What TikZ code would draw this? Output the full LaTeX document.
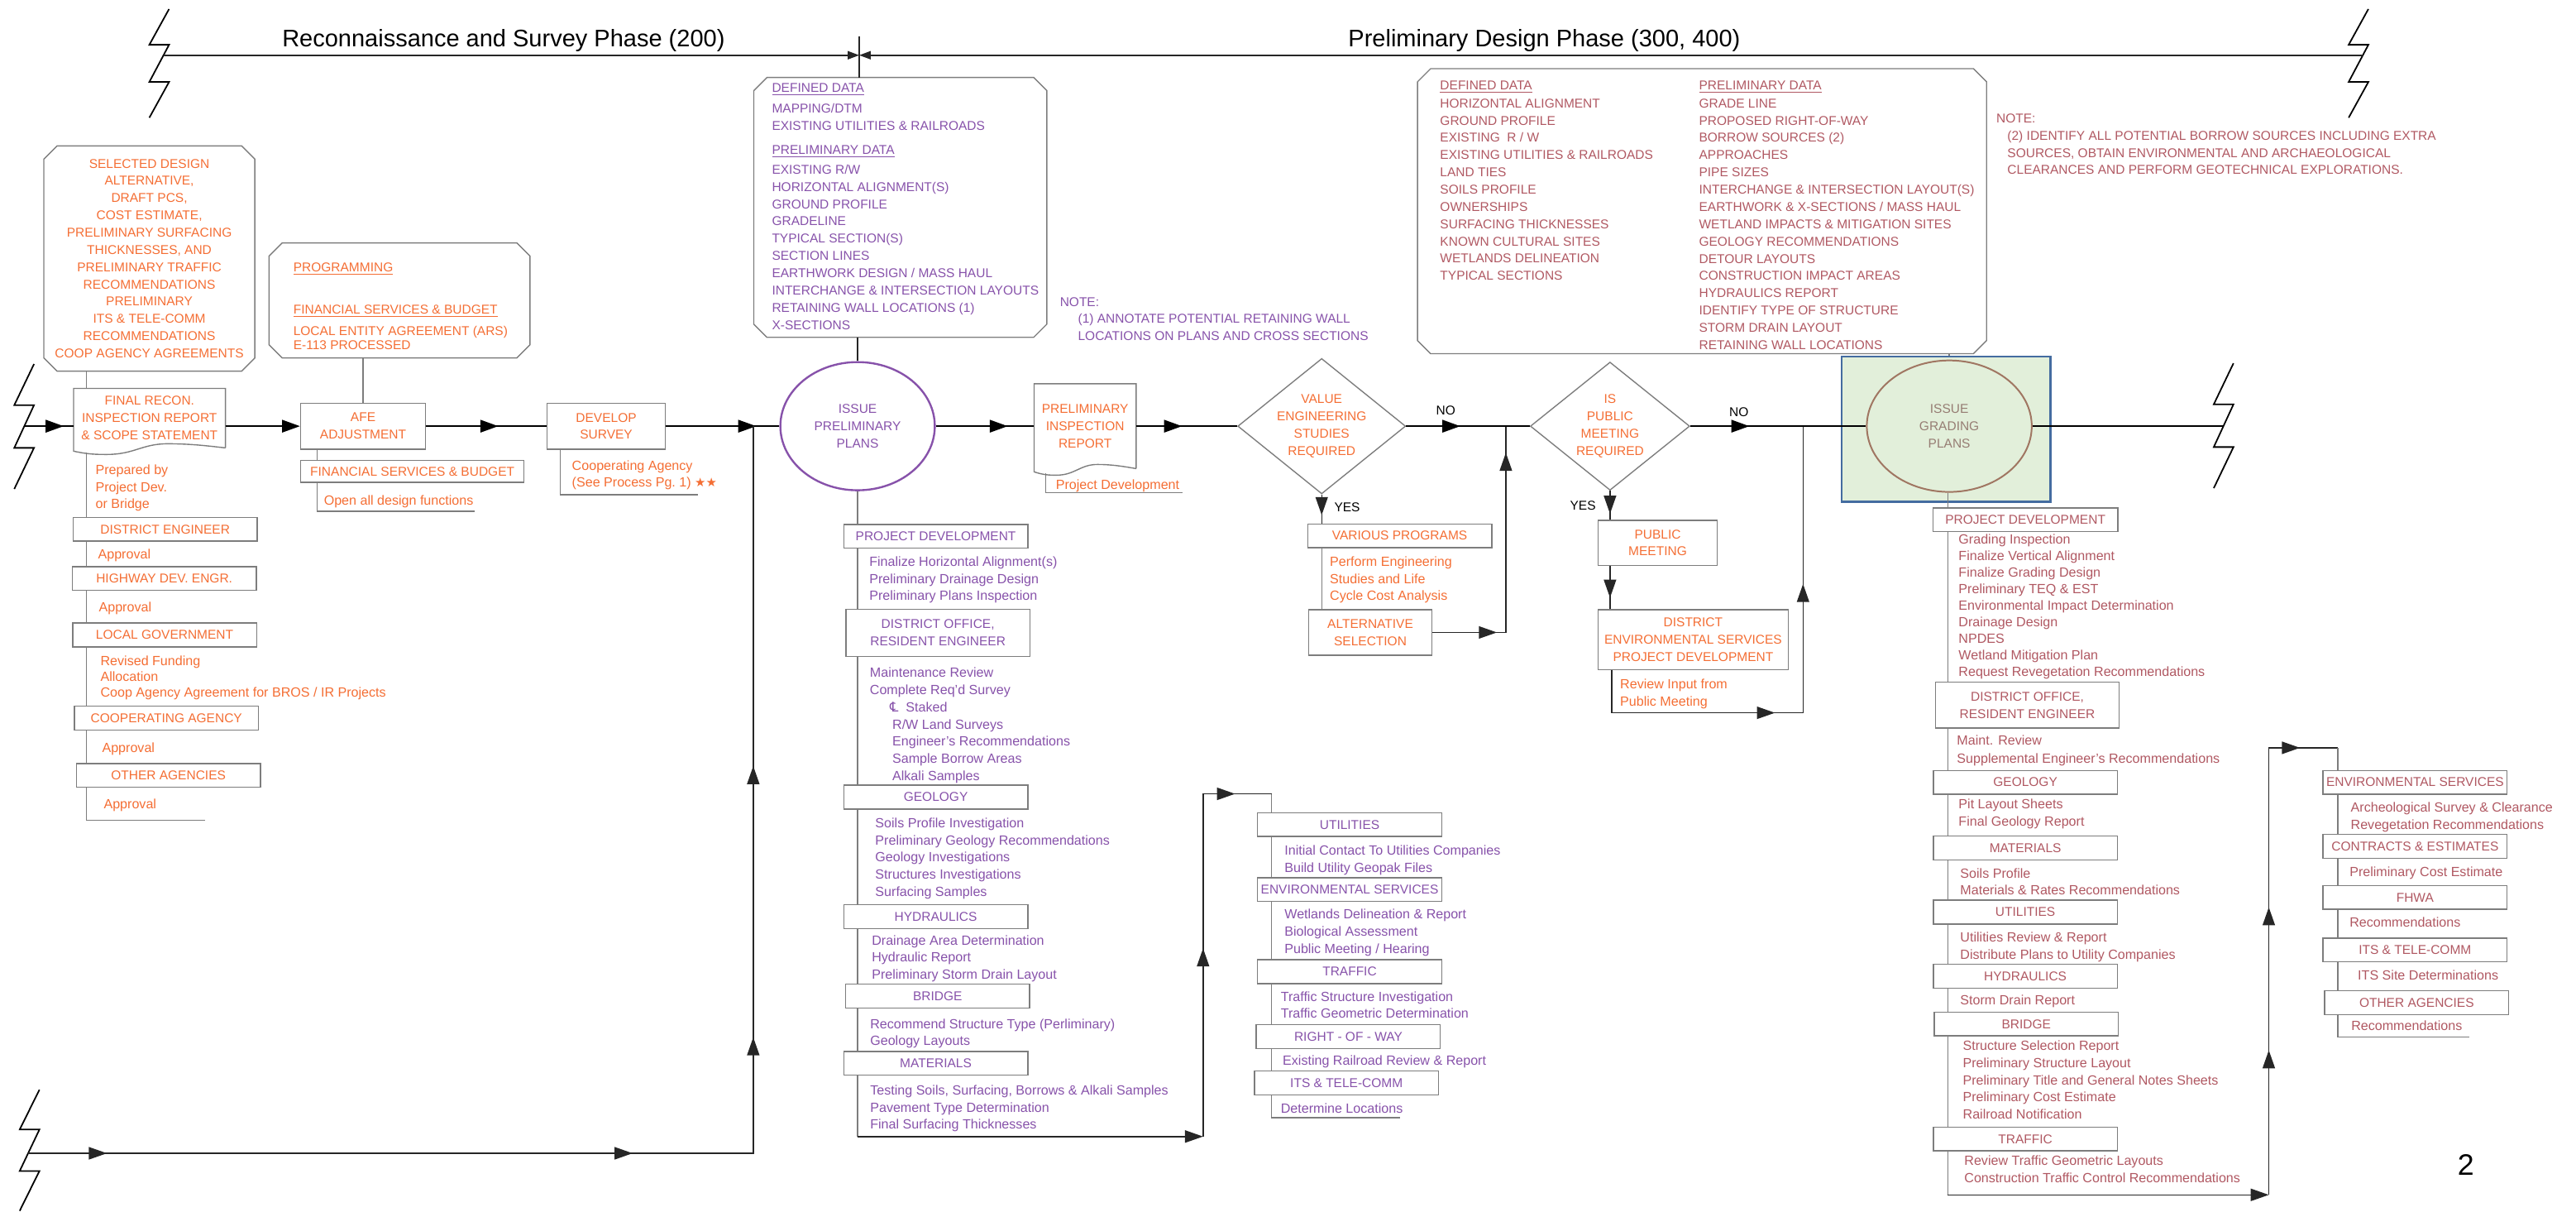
\documentclass[tikz,border=0pt]{standalone}
\usepackage{fontspec}
\setmainfont{Liberation Sans}
\newfontfamily\symfont{DejaVu Sans}
\usetikzlibrary{arrows.meta,shapes.geometric,decorations.markings,calc}

\definecolor{orangetxt}{RGB}{244,110,52}
\definecolor{purpletxt}{RGB}{135,82,170}
\definecolor{maroontxt}{RGB}{176,88,98}
\definecolor{boxgray}{RGB}{125,125,125}
\definecolor{gradefill}{RGB}{226,239,218}
\definecolor{gradeblue}{RGB}{68,108,160}
\definecolor{gradering}{RGB}{160,118,98}
\definecolor{gradetxt}{RGB}{150,125,115}

\newcommand{\capfont}{\fontsize{7.8}{10.5}\selectfont}
\newcommand{\listfont}{\fontsize{8.1}{10.4}\selectfont}
\newcommand{\docoutline}[1]{%
  \draw[boxline] (#1.south east) -- (#1.north east) -- (#1.north west) -- ($(#1.south west)+(0,2)$)
    .. controls ($(#1.south west)!0.1!(#1.south east)+(0,4)$) and ($(#1.south west)!0.15!(#1.south east)+(0,4)$) .. ($(#1.south west)!0.22!(#1.south east)+(0,4)$)
    .. controls ($(#1.south west)!0.4!(#1.south east)+(0,4)$) and ($(#1.south west)!0.45!(#1.south east)+(0,-2.5)$) .. ($(#1.south west)!0.62!(#1.south east)+(0,-2.5)$)
    .. controls ($(#1.south west)!0.78!(#1.south east)+(0,-2.5)$) and ($(#1.south west)!0.9!(#1.south east)+(0,-1)$) .. (#1.south east);}
\newcommand{\chamferoutline}[1]{%
  \draw[boxline] ($(#1.north west)+(8,0)$) -- ($(#1.north east)+(-8,0)$) -- ($(#1.north east)+(0,8)$)
    -- ($(#1.south east)+(0,-8)$) -- ($(#1.south east)+(-8,0)$) -- ($(#1.south west)+(8,0)$)
    -- ($(#1.south west)+(0,-8)$) -- ($(#1.north west)+(0,8)$) -- cycle;}

\begin{document}
\begin{tikzpicture}[x=1pt,y=-1pt,
mainline/.style={line width=1.3pt},
flowline/.style={line width=0.75pt,draw=black!85},
listline/.style={line width=0.7pt,draw=boxgray},
boxline/.style={line width=0.7pt,draw=boxgray},
endtip/.style={-{Triangle[length=11pt,width=7.5pt]}},
arrowat/.style={postaction={decorate,decoration={markings,mark=at position #1 with {\arrow{Triangle[length=11pt,width=7.5pt]}}}}},
tbox/.style={rectangle,draw=boxgray,line width=0.7pt,fill=white,inner sep=0pt,align=center,font=\capfont,minimum width=112pt,minimum height=14.5pt},
chbox/.style={rectangle,inner sep=0pt,align=center,font=\capfont},
docnode/.style={rectangle,inner sep=0pt,align=center,font=\capfont},
dmd/.style={diamond,aspect=1.24,draw=boxgray,line width=0.7pt,inner sep=0pt,minimum width=97pt,minimum height=78pt,align=center,font=\capfont},
ltext/.style={anchor=north west,align=left,inner sep=0pt,font=\listfont},
ctext/.style={anchor=north west,align=left,inner sep=0pt,font=\capfont},
lbl/.style={inner sep=0pt,font=\capfont},
breakzig/.pic={\draw[line width=0.9pt] (12,0) -- (0,25) -- (12,25) -- (0,51) -- (12,51) -- (0,76);}]

\useasboundingbox (0,0) rectangle (1568,737);

\pic[yscale=0.87] at (90.9,5.5) {breakzig};
\pic[yscale=0.87] at (1429.6,5.5) {breakzig};
\pic at (8.7,221.5) {breakzig};
\pic at (1347.5,221) {breakzig};
\pic[yscale=0.97] at (12,663) {breakzig};

\coordinate (hdrL) at (99.5,33.6);
\coordinate (hdrM) at (523,33.6);
\coordinate (hdrR) at (1438,33.6);
\coordinate (tickTop) at (523,22);
\draw[flowline,-{Triangle[length=7pt,width=5pt]}] (hdrL) -- (hdrM);
\draw[flowline,-{Triangle[length=7pt,width=5pt]}] (hdrR) -- (hdrM);
\node[font=\fontsize{14.6}{17}\selectfont,anchor=base] (phase1) at (306.5,28.5) {Reconnaissance and Survey Phase (200)};
\node[font=\fontsize{14.6}{17}\selectfont,anchor=base] (phase2) at (940,28.5) {Preliminary Design Phase (300, 400)};

\node[chbox,minimum width=128pt,minimum height=136.6pt,text=orangetxt] (selbox) at (90.9,157.3) {SELECTED DESIGN\\ALTERNATIVE,\\DRAFT PCS,\\COST ESTIMATE,\\PRELIMINARY SURFACING\\THICKNESSES, AND\\PRELIMINARY TRAFFIC\\RECOMMENDATIONS\\PRELIMINARY\\ITS \& TELE-COMM\\RECOMMENDATIONS\\COOP AGENCY AGREEMENTS};
\chamferoutline{selbox}

\node[docnode,minimum width=92pt,minimum height=35.8pt,text=orangetxt] (recon) at (91,254.4) {FINAL RECON.\\INSPECTION REPORT\\\& SCOPE STATEMENT};
\docoutline{recon}

\coordinate (mainL) at (14.8,259.3);
\coordinate (spineA) at (52.7,499);
\coordinate (endA) at (125,499);
\draw[listline] (selbox.south -| spineA) -- (recon.north -| spineA);
\draw[listline] ($(recon.south -| spineA)+(0,3)$) -- (spineA) -- (endA);

\node[tbox,text=orangetxt] (deng) at (100.5,322) {DISTRICT ENGINEER};
\node[tbox,text=orangetxt] (hdev) at (100,352) {HIGHWAY DEV. ENGR.};
\node[tbox,text=orangetxt] (lgov) at (100.2,386.3) {LOCAL GOVERNMENT};
\node[tbox,text=orangetxt] (coop) at (101.3,437) {COOPERATING AGENCY};
\node[tbox,text=orangetxt] (oth) at (102.5,471.8) {OTHER AGENCIES};
\node[ltext,text=orangetxt] (prep) at (58,282.6) {Prepared by\\Project Dev.\\or Bridge};
\node[ltext,text=orangetxt] (appr1) at (59.5,334.1) {Approval};
\node[ltext,text=orangetxt] (appr2) at (60,366.1) {Approval};
\node[ltext,text=orangetxt] (fund) at (61,398.8) {Revised Funding\\[-0.7pt]Allocation\\[-0.7pt]Coop Agency Agreement for BROS / IR Projects};
\node[ltext,text=orangetxt] (appr3) at (62,451.7) {Approval};
\node[ltext,text=orangetxt] (appr4) at (63,486.1) {Approval};

\node[chbox,minimum width=158.4pt,minimum height=69.6pt] (prog) at (243.2,182.8) {};
\chamferoutline{prog}
\node[ctext,text=orangetxt] (prog1) at (178.4,159.5) {\underline{PROGRAMMING}};
\node[ctext,text=orangetxt] (prog2) at (178.4,185.3) {\underline{FINANCIAL SERVICES \& BUDGET}};
\node[ctext,text=orangetxt] (prog3) at (178.4,198.4) {LOCAL ENTITY AGREEMENT (ARS)\\[-2pt]E-113 PROCESSED};

\node[tbox,text=orangetxt,minimum width=76pt,minimum height=28pt] (afe) at (221,259.3) {AFE\\ADJUSTMENT};
\draw[listline] (prog.south -| afe.north) -- (afe.north);
\coordinate (spineF) at (193,311);
\coordinate (endF) at (289,311);
\draw[listline] (afe.south -| spineF) -- (spineF) -- (endF);
\node[tbox,text=orangetxt,minimum width=136pt,minimum height=13.5pt] (finsv) at (251,286.8) {FINANCIAL SERVICES \& BUDGET};
\node[ltext,text=orangetxt] (opend) at (197,301.1) {Open all design functions};

\node[tbox,text=orangetxt,minimum width=72pt,minimum height=28pt] (dev) at (369,259.3) {DEVELOP\\SURVEY};
\coordinate (spineD) at (341,301);
\coordinate (endD) at (425,301);
\draw[listline] (dev.south -| spineD) -- (spineD) -- (endD);
\node[ltext,text=orangetxt] (coopag) at (348,280.1) {Cooperating Agency\\[-0.4pt](See Process Pg.~1) {\symfont\fontsize{7.5}{8}\selectfont ★★}};

\node[ellipse,draw=purpletxt,line width=1.2pt,minimum width=94pt,minimum height=78pt,inner sep=0pt,align=center,font=\capfont,text=purpletxt] (prelim) at (522,259.3) {ISSUE\\PRELIMINARY\\PLANS};

\node[chbox,minimum width=178pt,minimum height=157.7pt] (defbox) at (548,126.2) {};
\chamferoutline{defbox}
\node[ctext,text=purpletxt] (def1) at (469.7,50.8) {\underline{DEFINED DATA}\\[1.7pt]MAPPING/DTM\\EXISTING UTILITIES \& RAILROADS};
\node[ctext,text=purpletxt] (def2) at (469.7,88.5) {\underline{PRELIMINARY DATA}\\[1.3pt]EXISTING R/W\\HORIZONTAL ALIGNMENT(S)\\GROUND PROFILE\\GRADELINE\\TYPICAL SECTION(S)\\SECTION LINES\\EARTHWORK DESIGN / MASS HAUL\\INTERCHANGE \& INTERSECTION LAYOUTS\\RETAINING WALL LOCATIONS (1)\\X-SECTIONS};
\draw[flowline] (tickTop) -- (tickTop |- defbox.north);
\draw[flowline] (defbox.south -| prelim.north) -- (prelim.north);
\node[ctext,text=purpletxt] (note1) at (645,180.8) {NOTE:};
\node[ctext,text=purpletxt] (note1b) at (656,190.9) {(1) ANNOTATE POTENTIAL RETAINING WALL\\LOCATIONS ON PLANS AND CROSS SECTIONS};

\coordinate (spineP) at (522,691.5);
\coordinate (jumpP) at (732.3,691.5);
\coordinate (jumpTop) at (732.3,483);
\coordinate (spineU) at (774,483);
\coordinate (spineUend) at (774,680);
\coordinate (endU) at (852,680);
\draw[listline] (prelim.south) -- (spineP);
\draw[flowline,endtip] (spineP) -- (jumpP);
\draw[flowline,arrowat=114.5pt,arrowat=228pt] (jumpP) -- (jumpTop) -- (spineU);
\draw[listline] (spineU) -- (spineUend) -- (endU);

\node[tbox,text=purpletxt] (pdev1) at (569.6,326.3) {PROJECT DEVELOPMENT};
\node[tbox,text=purpletxt,minimum height=28.8pt] (doff1) at (570.9,385) {DISTRICT OFFICE,\\RESIDENT ENGINEER};
\node[tbox,text=purpletxt] (geo1) at (569.6,485) {GEOLOGY};
\node[tbox,text=purpletxt] (hyd1) at (569.6,557.7) {HYDRAULICS};
\node[tbox,text=purpletxt] (brg1) at (570.7,606) {BRIDGE};
\node[tbox,text=purpletxt] (mat1) at (569.6,647) {MATERIALS};
\node[ltext,text=purpletxt] (pdev1t) at (529,338.5) {Finalize Horizontal Alignment(s)\\Preliminary Drainage Design\\Preliminary Plans Inspection};
\node[ltext,text=purpletxt] (doff1t) at (529.3,405.9) {Maintenance Review\\Complete Req’d Survey};
\node[ltext,text=purpletxt] (doff1s) at (541.5,427.1) {{\symfont ℄}\ \ Staked\\\hspace*{1.5pt}R/W Land Surveys\\\hspace*{1.5pt}Engineer’s Recommendations\\\hspace*{1.5pt}Sample Borrow Areas\\\hspace*{1.5pt}Alkali Samples};
\node[ltext,text=purpletxt] (geo1t) at (532.6,497.5) {Soils Profile Investigation\\Preliminary Geology Recommendations\\Geology Investigations\\Structures Investigations\\Surfacing Samples};
\node[ltext,text=purpletxt] (hyd1t) at (530.5,568.8) {Drainage Area Determination\\Hydraulic Report\\Preliminary Storm Drain Layout};
\node[ltext,text=purpletxt] (brg1t) at (529.5,619.7) {Recommend Structure Type (Perliminary)\\Geology Layouts};
\node[ltext,text=purpletxt] (mat1t) at (529.5,660.1) {Testing Soils, Surfacing, Borrows \& Alkali Samples\\Pavement Type Determination\\Final Surfacing Thicknesses};

\node[tbox,text=purpletxt] (ut4) at (821.5,501.7) {UTILITIES};
\node[tbox,text=purpletxt] (env4) at (821.5,541.3) {ENVIRONMENTAL SERVICES};
\node[tbox,text=purpletxt] (trf4) at (821.5,591.2) {TRAFFIC};
\node[tbox,text=purpletxt] (row4) at (820.7,630.8) {RIGHT - OF - WAY};
\node[tbox,text=purpletxt] (its4) at (819.6,659) {ITS \& TELE-COMM};
\node[ltext,text=purpletxt] (ut4t) at (781.7,514.3) {Initial Contact To Utilities Companies\\Build Utility Geopak Files};
\node[ltext,text=purpletxt] (env4t) at (781.7,553.1) {Wetlands Delineation \& Report\\Biological Assessment\\Public Meeting / Hearing};
\node[ltext,text=purpletxt] (trf4t) at (779.4,603.1) {Traffic Structure Investigation\\Traffic Geometric Determination};
\node[ltext,text=purpletxt] (row4t) at (780.6,641.8) {Existing Railroad Review \& Report};
\node[ltext,text=purpletxt] (its4t) at (779.4,671.1) {Determine Locations};

\node[docnode,minimum width=61.7pt,minimum height=51.2pt,text=orangetxt] (pir) at (660.5,259.3) {PRELIMINARY\\INSPECTION\\REPORT};
\docoutline{pir}
\coordinate (spineR) at (636.6,299.8);
\coordinate (endR) at (720,299.8);
\draw[listline] ($(pir.south -| spineR)+(0,3)$) -- (spineR) -- (endR);
\node[ltext,text=orangetxt] (pirt) at (642.5,291.5) {Project Development};

\node[dmd,text=orangetxt] (ve) at (804.5,259.3) {VALUE\\ENGINEERING\\STUDIES\\REQUIRED};
\node[dmd,text=orangetxt] (pm) at (980,259.3) {IS\\PUBLIC\\MEETING\\REQUIRED};
\node[lbl] (no1) at (880,250) {NO};
\node[lbl] (no2) at (1058.5,250.7) {NO};
\coordinate (veJoin) at (916.6,259.3);
\coordinate (pmJoin) at (1097.5,259.3);

\node[tbox,text=orangetxt] (various) at (852,326) {VARIOUS PROGRAMS};
\node[lbl,anchor=west] (yes1) at (812,308.4) {YES};
\node[ltext,text=orangetxt] (varioust) at (809.3,338.4) {Perform Engineering\\Studies and Life\\Cycle Cost Analysis};
\node[tbox,text=orangetxt,minimum width=75.2pt,minimum height=27.6pt] (alt) at (834.1,384.8) {ALTERNATIVE\\SELECTION};
\draw[flowline,arrowat=-5pt] (ve.south) -- (ve.south |- various.north);
\draw[listline] (various.south -| ve.south) -- (alt.north -| ve.south);
\draw[flowline,arrowat=39.1pt,arrowat=153.9pt] (alt.east) -| (veJoin);

\node[lbl] (yes2) at (963.5,307.8) {YES};
\node[tbox,text=orangetxt,minimum width=72.6pt,minimum height=27.3pt] (pmeet) at (1009,330.3) {PUBLIC\\MEETING};
\node[tbox,text=orangetxt,minimum width=115.9pt,minimum height=36.3pt] (dist) at (1030.6,389.2) {DISTRICT\\ENVIRONMENTAL SERVICES\\PROJECT DEVELOPMENT};
\node[ltext,text=orangetxt] (distt) at (986,413.1) {Review Input from\\Public Meeting};
\coordinate (revEnd) at (981,433.7);
\draw[flowline,arrowat=-3.7pt] (pm.south) -- (pm.south |- pmeet.north);
\draw[flowline,arrowat=-7pt] (pmeet.south -| pm.south) -- (dist.north -| pm.south);
\draw[flowline,arrowat=125.4pt,arrowat=220.9pt] (dist.south -| revEnd) -- (revEnd) -| (pmJoin);

\node[draw=gradeblue,fill=gradefill,line width=1.3pt,minimum width=127pt,minimum height=88.3pt,inner sep=0pt] (grbox) at (1184.5,261.2) {};
\node[ellipse,draw=gradering,line width=1pt,minimum width=100.4pt,minimum height=80pt,inner sep=0pt,align=center,font=\capfont,text=gradetxt] (grading) at (1186.5,259.3) {ISSUE\\GRADING\\PLANS};
\coordinate (mainR) at (1353.4,259.3);

\draw[mainline,arrowat=-6pt] (mainL) -- (mainL -| recon.west);
\draw[mainline,endtip] (recon.east |- mainL) -- (afe.west);
\draw[mainline,arrowat=44pt] (afe.east) -- (dev.west);
\draw[mainline,arrowat=55pt] (dev.east) -- (prelim.west);
\draw[mainline,arrowat=-16pt] (prelim.east) -- (pir.west);
\draw[mainline,arrowat=28pt] (pir.east) -- (ve.west);
\draw[mainline,arrowat=33pt] (ve.east) -- (pm.west);
\draw[mainline,arrowat=36pt] (pm.east) -- (grading.west);
\draw[mainline] (grading.east) -- (mainR);

\coordinate (botL) at (17.1,701.7);
\coordinate (botCorner) at (458.5,701.7);
\coordinate (prelimJoin) at (458.5,259.3);
\draw[flowline,arrowat=48pt,arrowat=368pt,arrowat=512pt,arrowat=677pt] (botL) -- (botCorner) -- (prelimJoin);

\node[chbox,minimum width=346pt,minimum height=173pt] (prebox) at (1036,128.5) {};
\chamferoutline{prebox}
\node[ctext,text=maroontxt] (pre1) at (876.4,49.1) {\underline{DEFINED DATA}\\[0.4pt]HORIZONTAL ALIGNMENT\\GROUND PROFILE\\EXISTING\ \ R / W\\EXISTING UTILITIES \& RAILROADS\\LAND TIES\\SOILS PROFILE\\OWNERSHIPS\\SURFACING THICKNESSES\\KNOWN CULTURAL SITES\\WETLANDS DELINEATION\\TYPICAL SECTIONS};
\node[ctext,text=maroontxt] (pre2) at (1034,49.1) {\underline{PRELIMINARY DATA}\\[0.4pt]GRADE LINE\\PROPOSED RIGHT-OF-WAY\\BORROW SOURCES (2)\\APPROACHES\\PIPE SIZES\\INTERCHANGE \& INTERSECTION LAYOUT(S)\\EARTHWORK \& X-SECTIONS / MASS HAUL\\WETLAND IMPACTS \& MITIGATION SITES\\GEOLOGY RECOMMENDATIONS\\DETOUR LAYOUTS\\CONSTRUCTION IMPACT AREAS\\HYDRAULICS REPORT\\IDENTIFY TYPE OF STRUCTURE\\STORM DRAIN LAYOUT\\RETAINING WALL LOCATIONS};
\draw[listline] (prebox.south -| grading.north) -- (grbox.north -| grading.north);
\node[ctext,text=maroontxt] (note2) at (1215,69.1) {NOTE:};
\node[ctext,text=maroontxt] (note2b) at (1221.7,79.3) {(2) IDENTIFY ALL POTENTIAL BORROW SOURCES INCLUDING EXTRA\\SOURCES, OBTAIN ENVIRONMENTAL AND ARCHAEOLOGICAL\\CLEARANCES AND PERFORM GEOTECHNICAL EXPLORATIONS.};

\coordinate (spineG) at (1185.6,727);
\coordinate (rtCorner) at (1381,727);
\coordinate (rtTop) at (1381,455);
\coordinate (spineE) at (1423,455);
\coordinate (spineEend) at (1423,631);
\coordinate (endE) at (1503,631);
\draw[listline] (grading.south -| spineG) -- (spineG);
\draw[flowline,endtip] (spineG) -- (rtCorner);
\draw[flowline,arrowat=88pt,arrowat=175pt,arrowat=291pt] (rtCorner) -- (rtTop) -- (spineE);
\draw[listline] (spineE) -- (spineEend) -- (endE);

\node[tbox,text=maroontxt,minimum width=112.5pt,minimum height=14.3pt] (pd2) at (1232.8,316.2) {PROJECT DEVELOPMENT};
\node[tbox,text=maroontxt,minimum height=28pt] (doff2) at (1234,429) {DISTRICT OFFICE,\\RESIDENT ENGINEER};
\node[tbox,text=maroontxt] (geo2) at (1232.8,476) {GEOLOGY};
\node[tbox,text=maroontxt] (mat2) at (1232.8,516) {MATERIALS};
\node[tbox,text=maroontxt] (util2) at (1232.8,555) {UTILITIES};
\node[tbox,text=maroontxt] (hyd2) at (1232.8,594) {HYDRAULICS};
\node[tbox,text=maroontxt] (brg2) at (1233.4,623) {BRIDGE};
\node[tbox,text=maroontxt] (trf2) at (1232.8,693) {TRAFFIC};
\node[ltext,text=maroontxt,font=\fontsize{8.1}{10.05}\selectfont] (pd2t) at (1192,325.1) {Grading Inspection\\Finalize Vertical Alignment\\Finalize Grading Design\\Preliminary TEQ \& EST\\Environmental Impact Determination\\Drainage Design\\NPDES\\Wetland Mitigation Plan\\Request Revegetation Recommendations};
\node[ltext,text=maroontxt] (doff2t) at (1191,447.1) {Maint. Review\\[0.6pt]Supplemental Engineer’s Recommendations};
\node[ltext,text=maroontxt] (geo2t) at (1192,486.1) {Pit Layout Sheets\\Final Geology Report};
\node[ltext,text=maroontxt] (mat2t) at (1193,528.1) {Soils Profile\\Materials \& Rates Recommendations};
\node[ltext,text=maroontxt] (util2t) at (1193,567.1) {Utilities Review \& Report\\Distribute Plans to Utility Companies};
\node[ltext,text=maroontxt] (hyd2t) at (1193,605.1) {Storm Drain Report};
\node[ltext,text=maroontxt] (brg2t) at (1194.6,633.1) {Structure Selection Report\\Preliminary Structure Layout\\Preliminary Title and General Notes Sheets\\Preliminary Cost Estimate\\Railroad Notification};
\node[ltext,text=maroontxt] (trf2t) at (1195.5,703.1) {Review Traffic Geometric Layouts\\Construction Traffic Control Recommendations};

\node[tbox,text=maroontxt] (env3) at (1470,476) {ENVIRONMENTAL SERVICES};
\node[tbox,text=maroontxt] (con3) at (1470,515) {CONTRACTS \& ESTIMATES};
\node[tbox,text=maroontxt] (fhwa3) at (1470,546) {FHWA};
\node[tbox,text=maroontxt] (its3) at (1470,578) {ITS \& TELE-COMM};
\node[tbox,text=maroontxt] (oth3) at (1471,610) {OTHER AGENCIES};
\node[ltext,text=maroontxt] (env3t) at (1430.7,488.1) {Archeological Survey \& Clearance\\Revegetation Recommendations};
\node[ltext,text=maroontxt] (con3t) at (1430,527.1) {Preliminary Cost Estimate};
\node[ltext,text=maroontxt] (fhwa3t) at (1430,558.1) {Recommendations};
\node[ltext,text=maroontxt] (its3t) at (1435,590.1) {ITS Site Determinations};
\node[ltext,text=maroontxt] (oth3t) at (1431,621.1) {Recommendations};

\node[font=\fontsize{18}{20}\selectfont,inner sep=0pt] (pgnum) at (1501,708.5) {2};
\end{tikzpicture}
\end{document}
